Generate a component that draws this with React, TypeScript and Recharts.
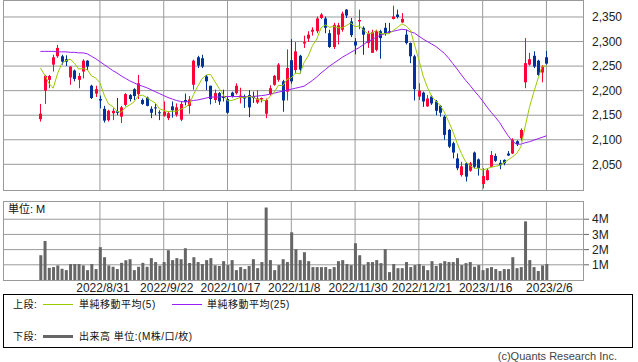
import React from "react";
import { ComposedChart, Bar, Line, XAxis, YAxis, CartesianGrid } from "recharts";

document.body.style.margin = "0";

// daily candles, one per trading day (index 0 = 2022/8/10)
const openP = [
  2142, 2200, 2222, 2253, 2270, 2270, 2264, 2227, 2241, 2222,
  2239, 2261, 2210, 2194, 2183, 2163, 2140, 2154, 2158, 2147,
  2171, 2191, 2203, 2193, 2181, 2186, 2163, 2166, 2156, 2149,
  2144, 2168, 2151, 2141, 2181, 2169, 2212, 2268, 2266, 2229,
  2210, 2181, 2195, 2188, 2183, 2196, 2195, 2186, 2188, 2191,
  2189, 2176, 2182, 2153, 2193, 2212, 2222, 2219, 2198, 2262,
  2242, 2271, 2296, 2306, 2320, 2321, 2348, 2347, 2317, 2289,
  2314, 2324, 2365, 2341, 2300, 2341, 2328, 2297, 2277, 2283,
  2321, 2328, 2321, 2346, 2355, 2339, 2314, 2297, 2270, 2188,
  2196, 2168, 2188, 2178, 2169, 2147, 2120, 2093, 2062, 2028,
  2052, 2037, 2074, 2060, 2010, 2018, 2045, 2067, 2053, 2059,
  2072, 2072, 2097, 2103, 2217, 2253, 2271, 2261, 2237, 2268,
];
const closeP = [
  2153, 2230, 2230, 2268, 2287, 2259, 2259, 2249, 2224, 2230,
  2261, 2249, 2185, 2203, 2180, 2139, 2159, 2159, 2155, 2166,
  2193, 2183, 2189, 2215, 2173, 2169, 2155, 2164, 2154, 2157,
  2154, 2160, 2166, 2173, 2177, 2182, 2261, 2251, 2249, 2219,
  2183, 2195, 2178, 2185, 2155, 2189, 2210, 2190, 2184, 2166,
  2185, 2184, 2185, 2181, 2205, 2230, 2253, 2180, 2246, 2219,
  2280, 2243, 2299, 2314, 2324, 2347, 2355, 2328, 2289, 2334,
  2333, 2357, 2353, 2313, 2292, 2344, 2314, 2317, 2319, 2321,
  2307, 2317, 2318, 2351, 2350, 2346, 2297, 2270, 2203, 2200,
  2178, 2184, 2174, 2159, 2155, 2110, 2086, 2074, 2042, 2046,
  2025, 2052, 2045, 2042, 2026, 2038, 2069, 2057, 2048, 2052,
  2068, 2100, 2091, 2120, 2256, 2264, 2249, 2232, 2249, 2255,
];
const highP = [
  2173, 2232, 2232, 2273, 2293, 2273, 2272, 2250, 2243, 2236,
  2264, 2262, 2212, 2210, 2190, 2169, 2161, 2164, 2185, 2169,
  2195, 2193, 2205, 2232, 2184, 2188, 2168, 2174, 2160, 2178,
  2158, 2178, 2174, 2178, 2194, 2189, 2263, 2271, 2273, 2232,
  2210, 2202, 2197, 2202, 2188, 2198, 2215, 2206, 2192, 2201,
  2198, 2201, 2186, 2184, 2211, 2232, 2256, 2222, 2284, 2305,
  2299, 2273, 2312, 2321, 2329, 2351, 2358, 2351, 2324, 2338,
  2338, 2361, 2366, 2348, 2307, 2365, 2331, 2322, 2324, 2324,
  2324, 2338, 2338, 2373, 2365, 2358, 2324, 2298, 2273, 2215,
  2198, 2191, 2191, 2181, 2171, 2150, 2122, 2096, 2072, 2055,
  2055, 2055, 2076, 2062, 2042, 2042, 2077, 2072, 2059, 2060,
  2077, 2103, 2099, 2123, 2307, 2277, 2280, 2263, 2252, 2281,
];
const lowP = [
  2137, 2173, 2205, 2239, 2267, 2253, 2250, 2212, 2219, 2205,
  2225, 2242, 2183, 2187, 2164, 2135, 2137, 2140, 2150, 2134,
  2168, 2178, 2181, 2183, 2171, 2168, 2144, 2150, 2140, 2147,
  2140, 2145, 2147, 2138, 2170, 2153, 2202, 2246, 2246, 2201,
  2172, 2175, 2171, 2178, 2153, 2186, 2192, 2174, 2165, 2146,
  2175, 2173, 2176, 2144, 2190, 2210, 2218, 2157, 2180, 2214,
  2235, 2235, 2287, 2299, 2312, 2317, 2346, 2317, 2287, 2285,
  2294, 2320, 2348, 2309, 2274, 2325, 2273, 2287, 2277, 2280,
  2265, 2312, 2317, 2345, 2347, 2338, 2294, 2256, 2180, 2181,
  2167, 2167, 2171, 2150, 2147, 2100, 2083, 2062, 2038, 2025,
  2015, 2035, 2042, 2027, 2001, 2017, 2044, 2055, 2040, 2048,
  2067, 2071, 2087, 2098, 2205, 2251, 2246, 2230, 2217, 2253,
];
// 単純移動平均(5)
const ma5 = [
  2246, 2232, 2215, 2205, 2234, 2255, 2261, 2264, 2256, 2244,
  2245, 2243, 2230, 2226, 2216, 2191, 2173, 2168, 2158, 2156,
  2166, 2171, 2177, 2189, 2191, 2186, 2180, 2175, 2163, 2160,
  2157, 2158, 2158, 2162, 2166, 2172, 2192, 2209, 2224, 2232,
  2233, 2219, 2205, 2192, 2179, 2180, 2183, 2186, 2186, 2188,
  2187, 2182, 2181, 2180, 2188, 2197, 2211, 2210, 2223, 2226,
  2236, 2234, 2257, 2271, 2292, 2305, 2328, 2334, 2329, 2331,
  2328, 2328, 2333, 2338, 2330, 2332, 2323, 2316, 2317, 2323,
  2316, 2316, 2316, 2323, 2329, 2336, 2332, 2323, 2293, 2263,
  2230, 2207, 2188, 2179, 2170, 2156, 2137, 2117, 2093, 2072,
  2055, 2048, 2042, 2042, 2038, 2041, 2044, 2046, 2048, 2053,
  2059, 2065, 2072, 2086, 2127, 2166, 2196, 2224, 2250, 2250,
];
// 単純移動平均(25)
const ma25 = [
  2280, 2280, 2280, 2280, 2279, 2279, 2279, 2278, 2278, 2277,
  2277, 2275, 2270, 2265, 2259, 2253, 2247, 2241, 2236, 2230,
  2225, 2220, 2216, 2212, 2209, 2206, 2202, 2198, 2194, 2190,
  2186, 2183, 2180, 2178, 2177, 2178, 2180, 2181, 2183, 2185,
  2187, 2187, 2187, 2188, 2188, 2188, 2188, 2188, 2188, 2188,
  2188, 2189, 2190, 2191, 2193, 2195, 2197, 2199, 2201, 2203,
  2205, 2207, 2209, 2215, 2221, 2228, 2236, 2243, 2250, 2256,
  2262, 2268, 2273, 2278, 2283, 2288, 2294, 2300, 2304, 2309,
  2313, 2316, 2319, 2321, 2323, 2325, 2324, 2320, 2317, 2311,
  2305, 2300, 2295, 2290, 2283, 2276, 2266, 2255, 2244, 2232,
  2221, 2211, 2200, 2190, 2179, 2167, 2156, 2146, 2135, 2121,
  2108, 2097, 2091, 2091, 2094, 2096, 2099, 2102, 2105, 2108,
];
// 出来高 (M株)
const volume = [
  1.63, 2.57, 0.8, 0.85, 0.96, 0.74, 0.65, 1.05, 1.05, 1.05,
  0.96, 0.65, 1.05, 0.72, 2.16, 1.5, 0.96, 0.87, 0.72, 1.13,
  1.3, 1.37, 0.65, 0.87, 1.13, 0.87, 1.44, 1.18, 0.94, 1.18,
  1.96, 1.31, 1.44, 1.37, 2.09, 1.12, 1.5, 1.18, 1.05, 1.31,
  1.44, 0.97, 0.92, 1.24, 0.98, 1.31, 0.65, 0.85, 0.72, 0.92,
  1.37, 0.78, 1.18, 4.77, 1.31, 0.65, 0.98, 1.37, 1.18, 3.14,
  2.03, 1.31, 1.83, 1.24, 0.85, 0.85, 0.85, 0.85, 0.72, 0.85,
  1.24, 1.31, 1.05, 0.98, 2.42, 1.63, 0.98, 1.18, 1.18, 1.31,
  1.11, 2.03, 0.52, 1.05, 0.78, 0.78, 1.18, 0.85, 0.98, 1.05,
  0.94, 0.65, 1.24, 0.92, 1.1, 1.24, 1.18, 1.18, 1.44, 0.98,
  1.11, 1.18, 0.87, 0.98, 0.65, 0.78, 0.85, 0.72, 0.59, 0.72,
  0.72, 1.5, 0.78, 0.85, 3.86, 1.31, 0.85, 0.59, 0.96, 1.05,
];

const tickIdx = [14, 29, 44, 59, 74, 89, 104, 119];
const tickLabels = [
  "2022/8/31", "2022/9/22", "2022/10/17", "2022/11/8",
  "2022/11/30", "2022/12/21", "2023/1/16", "2023/2/6",
];
const priceTicks = [2050, 2100, 2150, 2200, 2250, 2300, 2350];
const volTicks = [1, 2, 3, 4];

const rows = openP.map((o, i) => ({
  i,
  open: o,
  close: closeP[i],
  high: highP[i],
  low: lowP[i],
  ma5: ma5[i],
  ma25: ma25[i],
  vol: volume[i],
}));

const UP = "#ff0037";
const DOWN = "#003399";
const GRID = "#9a9a9a";
const FONT = "'Liberation Sans', 'Noto Sans CJK JP', sans-serif";
const X_DOMAIN: [number, number] = [-8.8, 127.6];

function Candle(props: any) {
  const { x, y, width, height, payload } = props;
  if (x == null || !payload) return null;
  const top = Math.min(y, y + height);
  const h = Math.abs(height);
  const { open, close, high, low } = payload;
  const k = h / (high - low || 1);
  const color = close >= open ? UP : DOWN;
  const bx = Math.round(x);
  const bTop = top + (high - Math.max(open, close)) * k;
  const bH = Math.max(1, Math.abs(close - open) * k);
  return (
    <g>
      <line x1={bx + 1.5} x2={bx + 1.5} y1={top} y2={top + h} stroke={color} strokeWidth={1} />
      <rect x={bx} y={bTop} width={width} height={bH} fill={color} />
    </g>
  );
}

const frame = (top: number, height: number): React.CSSProperties => ({
  position: "absolute",
  left: 3,
  top,
  width: 581,
  height,
  boxSizing: "border-box",
  border: `1px solid ${GRID}`,
  pointerEvents: "none",
});

const txt = (left: number, top: number, size = 10): React.CSSProperties => ({
  position: "absolute",
  left,
  top,
  fontSize: size,
  lineHeight: "13px",
  whiteSpace: "nowrap",
  color: "#111",
  letterSpacing: size === 10 ? 0.5 : 0,
});

export default function App() {
  return (
    <div style={{ position: "relative", width: 638, height: 362, background: "#fff", fontFamily: FONT, overflow: "hidden" }}>
      {/* 上段: ローソク足 + 移動平均 */}
      <div style={{ position: "absolute", left: 0, top: 0 }}>
        <ComposedChart width={638} height={191} data={rows} margin={{ top: 0, right: 0, bottom: 1, left: 3 }}>
          <CartesianGrid stroke={GRID} horizontalValues={priceTicks} verticalValues={tickIdx} />
          <XAxis dataKey="i" type="number" domain={X_DOMAIN} ticks={tickIdx} allowDataOverflow hide />
          <YAxis
            orientation="right"
            width={55}
            domain={[1997.7, 2384.6]}
            ticks={priceTicks}
            interval={0}
            allowDataOverflow
            axisLine={false}
            tickLine={false}
            tickSize={6}
            tickMargin={3}
            tick={{ fontSize: 12, fill: "#222", fontFamily: FONT }}
            tickFormatter={(v: number) => v.toLocaleString("en-US")}
          />
          <Bar
            dataKey={(d: any) => [d.low, d.high]}
            barSize={3}
            shape={(p: any) => <Candle {...p} />}
            isAnimationActive={false}
          />
          <Line dataKey="ma25" type="linear" stroke="#9a1ff5" strokeWidth={1} dot={false} isAnimationActive={false} />
          <Line dataKey="ma5" type="linear" stroke="#99cc00" strokeWidth={1} dot={false} isAnimationActive={false} />
        </ComposedChart>
      </div>
      <div style={frame(0, 191)} />

      {/* 下段: 出来高 */}
      <div style={{ position: "absolute", left: 0, top: 201 }}>
        <ComposedChart width={638} height={100} data={rows} margin={{ top: 0, right: 0, bottom: 0, left: 3 }}>
          <CartesianGrid stroke={GRID} horizontalValues={volTicks} verticalValues={tickIdx} />
          <XAxis
            dataKey="i"
            type="number"
            domain={X_DOMAIN}
            ticks={tickIdx}
            interval={0}
            allowDataOverflow
            height={21}
            axisLine={false}
            tickLine={false}
            tickSize={0}
            tickMargin={3}
            tick={{ fontSize: 12, fill: "#222", fontFamily: FONT, dx: 3 }}
            tickFormatter={(v: number) => tickLabels[tickIdx.indexOf(v)]}
          />
          <YAxis
            orientation="right"
            width={55}
            domain={[0, 5.2]}
            ticks={volTicks}
            interval={0}
            allowDataOverflow
            axisLine={false}
            tickLine={{ stroke: "#666" }}
            tickSize={6}
            tickMargin={3}
            tick={{ fontSize: 12, fill: "#222", fontFamily: FONT }}
            tickFormatter={(v: number) => `${v}M`}
          />
          <Bar dataKey="vol" fill="#666666" barSize={3} isAnimationActive={false} />
        </ComposedChart>
      </div>
      <div style={frame(201, 80)} />
      <div style={txt(8, 203, 11)}>単位: M</div>

      {/* 凡例 */}
      <div style={{ position: "absolute", left: 3, top: 294, width: 630, height: 54, boxSizing: "border-box", border: "1px solid #000" }} />
      <div style={txt(13, 298)}>上段:</div>
      <div style={{ position: "absolute", left: 43, top: 304, width: 30, height: 1, background: "#99cc00" }} />
      <div style={txt(79, 298)}>単純移動平均(5)</div>
      <div style={{ position: "absolute", left: 172, top: 304, width: 30, height: 1, background: "#9a1ff5" }} />
      <div style={txt(207, 298)}>単純移動平均(25)</div>
      <div style={txt(13, 330)}>下段:</div>
      <div style={{ position: "absolute", left: 43, top: 335, width: 30, height: 3, background: "#666666" }} />
      <div style={txt(79, 330)}>出来高 単位:(M株/口/枚)</div>

      <div style={{ position: "absolute", right: 21, top: 349, fontSize: 11, lineHeight: "14px", color: "#444" }}>
        (c)Quants Research Inc.
      </div>
    </div>
  );
}
